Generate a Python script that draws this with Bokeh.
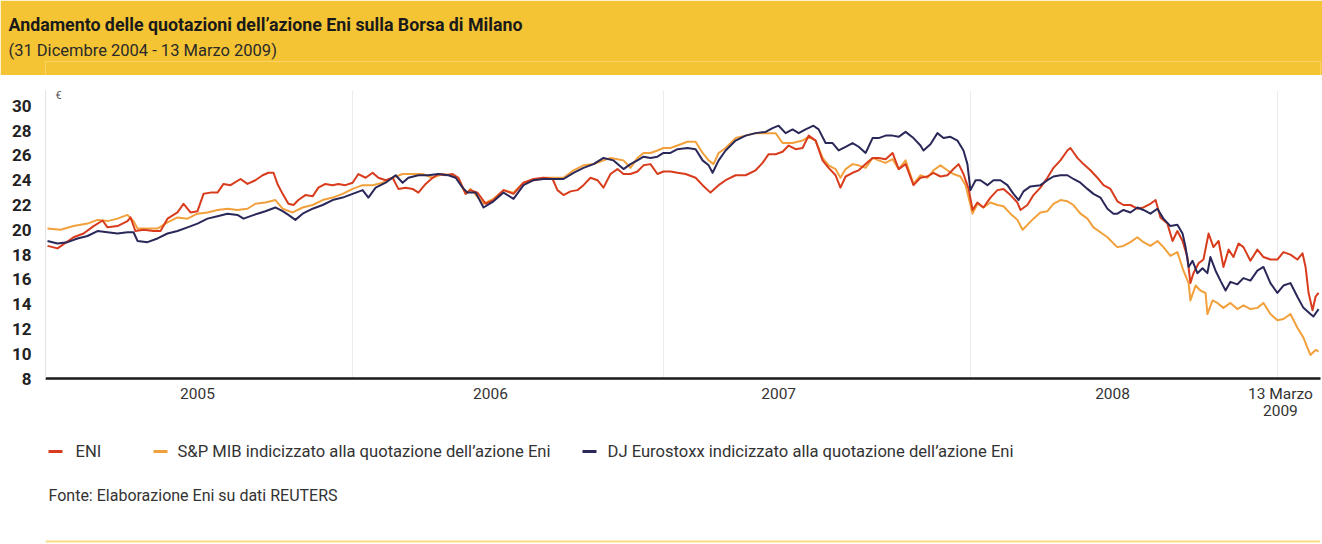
from bokeh.plotting import figure
from bokeh.models import Range1d, FixedTicker, ColumnDataSource, Title
from bokeh.layouts import column
from bokeh.embed import file_html
from bokeh.resources import INLINE
from bokeh.core.properties import value

# ---------------- data (x = fractional year, y = euro) ----------------
eni_x = [2005.000, 2005.033, 2005.086, 2005.119, 2005.152, 2005.182, 2005.198, 2005.231, 2005.264, 2005.274,
         2005.290, 2005.317, 2005.350, 2005.373, 2005.396, 2005.429, 2005.449, 2005.472, 2005.495, 2005.515,
         2005.538, 2005.561, 2005.581, 2005.604, 2005.637, 2005.660, 2005.686, 2005.710, 2005.729, 2005.746,
         2005.759, 2005.776, 2005.795, 2005.812, 2005.828, 2005.851, 2005.875, 2005.894, 2005.917, 2005.941,
         2005.960, 2005.983, 2006.007, 2006.026, 2006.050, 2006.073, 2006.092, 2006.116, 2006.139, 2006.158,
         2006.182, 2006.205, 2006.224, 2006.248, 2006.271, 2006.290, 2006.314, 2006.337, 2006.356, 2006.380,
         2006.396, 2006.419, 2006.446, 2006.472, 2006.505, 2006.538, 2006.571, 2006.604, 2006.637, 2006.667,
         2006.683, 2006.703, 2006.726, 2006.749, 2006.769, 2006.792, 2006.815, 2006.835, 2006.858, 2006.881,
         2006.901, 2006.924, 2006.947, 2006.967, 2006.990, 2007.013, 2007.033, 2007.056, 2007.079, 2007.106,
         2007.139, 2007.162, 2007.188, 2007.215, 2007.238, 2007.271, 2007.304, 2007.337, 2007.360, 2007.380,
         2007.403, 2007.426, 2007.446, 2007.469, 2007.492, 2007.512, 2007.535, 2007.558, 2007.578, 2007.601,
         2007.617, 2007.634, 2007.657, 2007.677, 2007.700, 2007.723, 2007.743, 2007.766, 2007.789, 2007.809,
         2007.832, 2007.858, 2007.881, 2007.904, 2007.924, 2007.947, 2007.970, 2007.990, 2008.007, 2008.023,
         2008.040, 2008.053, 2008.069, 2008.089, 2008.112, 2008.135, 2008.155, 2008.178, 2008.201, 2008.211,
         2008.234, 2008.254, 2008.277, 2008.300, 2008.320, 2008.343, 2008.366, 2008.376, 2008.399, 2008.419,
         2008.442, 2008.465, 2008.485, 2008.508, 2008.531, 2008.551, 2008.574, 2008.597, 2008.617, 2008.640,
         2008.657, 2008.673, 2008.696, 2008.713, 2008.729, 2008.746, 2008.762, 2008.772, 2008.782, 2008.799,
         2008.815, 2008.832, 2008.848, 2008.865, 2008.881, 2008.898, 2008.914, 2008.931, 2008.947, 2008.970,
         2008.993, 2009.013, 2009.036, 2009.059, 2009.079, 2009.102, 2009.125, 2009.142, 2009.152, 2009.162,
         2009.175, 2009.185, 2009.195]
eni_y = [18.7, 18.5, 19.4, 19.7, 20.3, 20.75, 20.2, 20.3, 20.7, 21.0,
         19.9, 20.0, 19.9, 19.9, 20.9, 21.4, 22.1, 21.4, 21.5, 22.9,
         23.0, 23.0, 23.7, 23.6, 24.1, 23.7, 24.0, 24.4, 24.6, 24.6,
         23.7, 22.9, 22.1, 22.0, 22.4, 22.8, 22.7, 23.4, 23.7, 23.6,
         23.7, 23.6, 23.8, 24.5, 24.2, 24.6, 24.2, 24.0, 24.2, 23.3,
         23.4, 23.3, 23.0, 23.7, 24.2, 24.5, 24.4, 24.5, 24.2, 22.9,
         23.2, 23.0, 22.1, 22.4, 23.2, 22.9, 23.8, 24.1, 24.2, 24.1,
         23.2, 22.8, 23.1, 23.2, 23.6, 24.2, 24.0, 23.4, 24.5, 24.9,
         24.5, 24.5, 24.7, 25.2, 25.3, 24.5, 24.7, 24.7, 24.6, 24.5,
         24.2, 23.6, 23.0, 23.6, 24.0, 24.4, 24.4, 24.8, 25.4, 26.1,
         26.1, 26.3, 26.8, 26.5, 26.6, 27.6, 27.2, 25.6, 25.0, 24.4,
         23.4, 24.3, 24.6, 24.8, 25.3, 25.8, 25.8, 25.7, 26.2, 24.9,
         25.3, 23.6, 24.2, 24.3, 24.6, 24.3, 24.4, 24.9, 25.3, 24.5,
         23.3, 21.6, 22.2, 21.8, 22.6, 23.2, 23.3, 22.8, 22.2, 21.6,
         22.0, 22.8, 23.4, 24.2, 25.0, 25.6, 26.4, 26.6, 25.8, 25.3,
         24.8, 24.2, 23.6, 23.3, 22.3, 22.0, 22.0, 21.7, 21.8, 22.1,
         22.4, 21.0, 20.5, 19.1, 19.9, 19.1, 17.8, 15.7, 16.5, 17.3,
         17.6, 19.7, 18.6, 19.1, 17.0, 18.4, 17.8, 18.9, 18.6, 17.5,
         18.4, 17.8, 17.6, 17.6, 18.2, 18.0, 17.6, 18.1, 17.0, 14.9,
         13.5, 14.6, 14.9]

mib_x = [2005.000, 2005.043, 2005.086, 2005.132, 2005.165, 2005.198, 2005.231, 2005.264, 2005.284, 2005.297,
         2005.330, 2005.363, 2005.396, 2005.429, 2005.462, 2005.495, 2005.528, 2005.561, 2005.594, 2005.627,
         2005.660, 2005.686, 2005.719, 2005.752, 2005.776, 2005.809, 2005.842, 2005.875, 2005.908, 2005.941,
         2005.974, 2006.007, 2006.040, 2006.073, 2006.106, 2006.139, 2006.172, 2006.205, 2006.238, 2006.271,
         2006.304, 2006.337, 2006.356, 2006.380, 2006.396, 2006.439, 2006.472, 2006.505, 2006.538, 2006.571,
         2006.604, 2006.637, 2006.670, 2006.703, 2006.736, 2006.769, 2006.802, 2006.835, 2006.858, 2006.881,
         2006.901, 2006.924, 2006.947, 2006.967, 2006.990, 2007.013, 2007.033, 2007.056, 2007.079, 2007.112,
         2007.139, 2007.162, 2007.182, 2007.198, 2007.215, 2007.238, 2007.271, 2007.304, 2007.337, 2007.370,
         2007.403, 2007.426, 2007.459, 2007.492, 2007.512, 2007.535, 2007.558, 2007.578, 2007.601, 2007.617,
         2007.634, 2007.657, 2007.677, 2007.700, 2007.723, 2007.743, 2007.766, 2007.789, 2007.809, 2007.832,
         2007.858, 2007.881, 2007.904, 2007.924, 2007.947, 2007.970, 2007.990, 2008.013, 2008.030, 2008.040,
         2008.053, 2008.069, 2008.089, 2008.112, 2008.135, 2008.155, 2008.178, 2008.201, 2008.218, 2008.234,
         2008.254, 2008.277, 2008.300, 2008.320, 2008.343, 2008.366, 2008.386, 2008.409, 2008.432, 2008.452,
         2008.475, 2008.498, 2008.518, 2008.531, 2008.551, 2008.574, 2008.597, 2008.617, 2008.640, 2008.663,
         2008.683, 2008.706, 2008.729, 2008.749, 2008.766, 2008.772, 2008.789, 2008.805, 2008.822, 2008.828,
         2008.845, 2008.861, 2008.881, 2008.904, 2008.927, 2008.947, 2008.970, 2008.993, 2009.013, 2009.036,
         2009.059, 2009.079, 2009.102, 2009.125, 2009.145, 2009.158, 2009.168, 2009.185, 2009.195]
mib_y = [20.1, 20.0, 20.3, 20.5, 20.8, 20.7, 20.9, 21.2, 20.7, 20.1,
         20.1, 20.1, 20.6, 21.0, 20.9, 21.3, 21.4, 21.6, 21.7, 21.6,
         21.7, 22.1, 22.2, 22.4, 21.7, 21.4, 21.8, 22.0, 22.4, 22.6,
         22.9, 23.3, 23.6, 23.6, 23.8, 24.2, 24.5, 24.5, 24.5, 24.2,
         24.5, 24.4, 24.1, 22.9, 23.3, 22.1, 22.5, 23.2, 23.0, 23.8,
         24.0, 24.2, 24.2, 24.2, 24.8, 25.2, 25.3, 25.6, 25.8, 25.7,
         25.6, 25.0, 25.8, 26.2, 26.2, 26.4, 26.6, 26.6, 26.8, 27.1,
         27.1, 26.2, 25.6, 25.3, 26.2, 26.6, 27.4, 27.6, 27.8, 27.8,
         27.8, 27.0, 27.0, 27.2, 27.5, 27.2, 25.8, 25.2, 24.9, 24.2,
         24.9, 25.3, 25.2, 25.0, 25.8, 25.6, 25.4, 25.7, 24.9, 25.6,
         23.7, 24.4, 24.2, 24.8, 25.2, 24.8, 24.5, 24.3, 23.6, 22.6,
         21.3, 22.1, 21.8, 22.2, 22.0, 21.9, 21.3, 20.8, 20.0, 20.4,
         20.9, 21.4, 21.5, 22.1, 22.4, 22.3, 22.0, 21.3, 20.9, 20.2,
         19.8, 19.4, 18.9, 18.6, 18.7, 19.0, 19.4, 19.0, 18.7, 19.1,
         18.6, 17.9, 18.2, 16.7, 15.7, 14.3, 15.5, 15.1, 14.9, 13.2,
         14.3, 14.1, 13.7, 14.1, 13.6, 13.9, 13.6, 13.7, 14.1, 13.2,
         12.7, 12.8, 13.2, 12.1, 11.3, 10.5, 9.9, 10.3, 10.2]

djs_x = [2005.000, 2005.033, 2005.066, 2005.099, 2005.132, 2005.165, 2005.198, 2005.231, 2005.264, 2005.284,
         2005.297, 2005.330, 2005.363, 2005.396, 2005.429, 2005.462, 2005.495, 2005.528, 2005.561, 2005.594,
         2005.627, 2005.647, 2005.670, 2005.693, 2005.719, 2005.752, 2005.776, 2005.795, 2005.818, 2005.842,
         2005.875, 2005.908, 2005.941, 2005.974, 2006.007, 2006.040, 2006.059, 2006.083, 2006.116, 2006.149,
         2006.172, 2006.191, 2006.224, 2006.257, 2006.290, 2006.323, 2006.347, 2006.370, 2006.386, 2006.413,
         2006.439, 2006.472, 2006.505, 2006.538, 2006.571, 2006.604, 2006.637, 2006.670, 2006.703, 2006.736,
         2006.769, 2006.802, 2006.835, 2006.868, 2006.901, 2006.924, 2006.947, 2006.967, 2006.990, 2007.013,
         2007.033, 2007.056, 2007.079, 2007.112, 2007.139, 2007.162, 2007.182, 2007.195, 2007.215, 2007.238,
         2007.271, 2007.304, 2007.337, 2007.370, 2007.393, 2007.413, 2007.436, 2007.459, 2007.479, 2007.502,
         2007.528, 2007.545, 2007.568, 2007.591, 2007.611, 2007.634, 2007.657, 2007.677, 2007.700, 2007.723,
         2007.743, 2007.766, 2007.789, 2007.809, 2007.832, 2007.858, 2007.881, 2007.891, 2007.914, 2007.937,
         2007.957, 2007.980, 2008.003, 2008.023, 2008.036, 2008.046, 2008.063, 2008.079, 2008.102, 2008.122,
         2008.145, 2008.168, 2008.188, 2008.205, 2008.221, 2008.244, 2008.277, 2008.300, 2008.320, 2008.343,
         2008.366, 2008.386, 2008.409, 2008.432, 2008.452, 2008.475, 2008.498, 2008.518, 2008.531, 2008.551,
         2008.574, 2008.597, 2008.617, 2008.640, 2008.663, 2008.683, 2008.706, 2008.729, 2008.746, 2008.756,
         2008.766, 2008.779, 2008.795, 2008.812, 2008.828, 2008.838, 2008.855, 2008.871, 2008.888, 2008.904,
         2008.927, 2008.947, 2008.970, 2008.993, 2009.013, 2009.036, 2009.059, 2009.079, 2009.102, 2009.125,
         2009.145, 2009.168, 2009.178, 2009.195]
djs_y = [19.1, 18.9, 19.0, 19.3, 19.5, 19.9, 19.8, 19.7, 19.8, 19.8,
         19.1, 19.0, 19.3, 19.7, 19.9, 20.2, 20.5, 20.9, 21.1, 21.3,
         21.2, 20.9, 21.1, 21.3, 21.5, 21.8, 21.5, 21.2, 20.8, 21.3,
         21.7, 22.0, 22.4, 22.6, 22.9, 23.2, 22.6, 23.4, 23.8, 24.4,
         23.8, 24.2, 24.4, 24.4, 24.5, 24.4, 24.2, 23.4, 23.0, 23.0,
         21.8, 22.3, 23.0, 22.5, 23.6, 24.0, 24.1, 24.1, 24.1, 24.6,
         25.0, 25.3, 25.8, 25.6, 24.9, 25.3, 25.6, 25.9, 25.8, 25.9,
         26.2, 26.2, 26.5, 26.6, 26.5, 25.6, 25.2, 24.6, 25.6, 26.4,
         27.2, 27.6, 27.8, 27.9, 28.2, 28.4, 27.8, 28.1, 27.8, 28.1,
         28.4, 28.1, 27.0, 27.0, 26.4, 26.7, 27.0, 26.7, 26.2, 27.4,
         27.4, 27.6, 27.6, 27.5, 27.9, 27.4, 26.8, 26.4, 26.9, 27.8,
         27.4, 27.5, 27.2, 26.4, 25.3, 23.2, 24.0, 24.0, 23.6, 24.0,
         24.0, 23.6, 22.9, 22.4, 23.1, 23.5, 23.6, 24.0, 24.3, 24.4,
         24.4, 24.1, 23.8, 23.3, 22.9, 22.6, 21.7, 21.3, 21.3, 21.6,
         21.4, 21.8, 21.6, 21.3, 21.7, 20.9, 20.3, 20.4, 19.7, 18.6,
         17.0, 17.5, 16.5, 16.9, 16.5, 17.8, 16.7, 15.9, 15.1, 15.8,
         15.6, 16.1, 15.9, 16.7, 17.0, 15.7, 14.9, 15.5, 15.7, 14.6,
         13.7, 13.2, 13.0, 13.6]

series_names = ["ENI",
                "S&P MIB indicizzato alla quotazione dell\u2019azione Eni",
                "DJ Eurostoxx indicizzato alla quotazione dell\u2019azione Eni"]
y_ticks = [8, 10, 12, 14, 16, 18, 20, 22, 24, 26, 28, 30]
x_tick_pos = [2005.495, 2006.462, 2007.413, 2008.515, 2009.069]
x_tick_labels = ["2005", "2006", "2007", "2008", "13 Marzo\n2009"]
grid_pos = [2006.007, 2007.033, 2008.046, 2009.059]

TITLE = "Andamento delle quotazioni dell\u2019azione Eni sulla Borsa di Milano"
SUBTITLE = "(31 Dicembre 2004 - 13 Marzo 2009)"
SOURCE = "Fonte: Elaborazione Eni su dati REUTERS"
UNIT = "\u20ac"

# ---------------- styling ----------------
YELLOW = "#f5c434"
RED = "#d83c1c"
ORANGE = "#f2a03c"
NAVY = "#2a2858"
FONT = value("Roboto")
W = 1322
LB, RB = 45, 2          # left / right borders shared by all three panels

# ---------------- header ----------------
header = figure(width=W, height=75, x_range=Range1d(LB, W - RB), y_range=Range1d(0, 10),
                x_axis_location=None, y_axis_location=None,
                min_border_left=LB, min_border_right=RB, min_border_top=0, min_border_bottom=0,
                output_backend="svg", toolbar_location=None)
header.grid.visible = False
header.background_fill_color = YELLOW
header.border_fill_color = YELLOW
header.outline_line_color = None
header.add_layout(Title(text=SUBTITLE, align="left", offset=8 - LB, text_font="Roboto",
                        text_font_size="16.5px", text_font_style="normal", text_color="#2a2a2a",
                        standoff=4), "above")
header.add_layout(Title(text=TITLE, align="left", offset=8 - LB, text_font="Roboto",
                        text_font_size="17.8px", text_font_style="bold", text_color="#1a1a1a",
                        standoff=4), "above")
# small blank spacer at the very top of the banner
header.add_layout(Title(text=" ", align="left", text_font="Roboto", text_font_size="6px",
                        standoff=0), "above")

# ---------------- chart ----------------
p = figure(width=W, height=353, x_range=Range1d(2004.9934, 2009.2013), y_range=Range1d(8, 31.24),
           min_border_left=LB, min_border_right=RB, min_border_top=15, min_border_bottom=50,
           output_backend="svg", toolbar_location=None)
p.background_fill_color = "white"
p.border_fill_color = "white"
p.outline_line_color = None

p.ygrid.visible = False
p.xgrid.ticker = FixedTicker(ticks=grid_pos)
p.xgrid.grid_line_color = "#ececec"
p.xgrid.grid_line_width = 1

p.yaxis.ticker = FixedTicker(ticks=y_ticks)
p.yaxis.axis_line_color = "#e2e2e2"
p.yaxis.major_tick_out = 0
p.yaxis.major_tick_in = 0
p.yaxis.minor_tick_line_color = None
p.yaxis.major_label_standoff = 14
p.yaxis.major_label_text_font = "Roboto"
p.yaxis.major_label_text_font_size = "17px"
p.yaxis.major_label_text_font_style = "bold"
p.yaxis.major_label_text_color = "#222222"

p.xaxis.ticker = FixedTicker(ticks=x_tick_pos)
p.xaxis.major_label_overrides = {pos: lab for pos, lab in zip(x_tick_pos, x_tick_labels)}
p.xaxis.axis_line_color = "#1a1a1a"
p.xaxis.axis_line_width = 2.5
p.xaxis.major_tick_out = 0
p.xaxis.major_tick_in = 0
p.xaxis.minor_tick_line_color = None
p.xaxis.major_label_standoff = 6
p.xaxis.major_label_text_font = "Roboto"
p.xaxis.major_label_text_font_size = "15.5px"
p.xaxis.major_label_text_line_height = 0.95
p.xaxis.major_label_text_color = "#333333"

for xs, ys, col in [(mib_x, mib_y, ORANGE), (eni_x, eni_y, RED), (djs_x, djs_y, NAVY)]:
    src = ColumnDataSource(dict(x=xs, y=ys))
    p.line("x", "y", source=src, line_color=col, line_width=2, line_join="round")

p.text(x=[2005.026], y=[30.84], text=[UNIT], text_font=FONT, text_font_size="11px",
       text_color="#555555", text_baseline="middle", text_align="left")

# ---------------- footer (legend + source) ----------------
footer = figure(width=W, height=116, x_range=Range1d(LB, W - RB), y_range=Range1d(0, 116),
                x_axis_location=None, y_axis_location=None,
                min_border_left=LB, min_border_right=RB, min_border_top=0, min_border_bottom=0,
                output_backend="svg", toolbar_location=None)
footer.grid.visible = False
footer.background_fill_color = "white"
footer.border_fill_color = "white"
footer.outline_line_color = None

leg_mark_x0 = [48, 153, 582]
leg_text_x = [75, 177, 607]
leg_colors = [RED, ORANGE, NAVY]
footer.segment(x0=leg_mark_x0, y0=[93, 93, 93], x1=[m + 14 for m in leg_mark_x0], y1=[93, 93, 93],
               line_color=leg_colors, line_width=3)
footer.text(x=leg_text_x, y=[93, 93, 93], text=series_names, text_font=FONT,
            text_font_size="16.6px", text_color="#333333", text_baseline="middle", text_align="left")
footer.text(x=[48], y=[49], text=[SOURCE], text_font=FONT, text_font_size="16px",
            text_color="#333333", text_baseline="middle", text_align="left")
footer.segment(x0=[LB], y0=[3], x1=[W - RB], y1=[3], line_color="#f7dc84", line_width=2)

layout = column(header, p, footer, spacing=0)
open("out.html", "w").write(file_html(layout, INLINE))
